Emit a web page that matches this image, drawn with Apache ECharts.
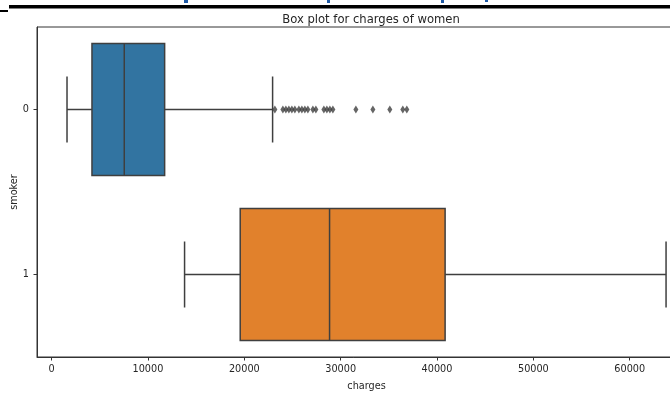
<!DOCTYPE html>
<html>
<head>
<meta charset="utf-8">
<script src="https://cdn.jsdelivr.net/npm/echarts@6/dist/echarts.min.js"></script>
<style>
html,body{margin:0;padding:0;background:#fff;}
#chart{width:670px;height:398px;}
</style>
</head>
<body>
<div id="chart"></div>
<script>
// ---- data ----
const categories = ['0', '1'];
// [min whisker, Q1, median, Q3, max whisker]
const stats0 = [1600, 4190, 7541, 11732, 22936];
const stats1 = [13800, 19575, 28848, 40840, 63770];
const outliers0 = [23174, 24004, 24315, 24627, 24938, 25249, 25664, 25975, 26286, 26598,
                   27116, 27427, 28257, 28568, 28880, 29191, 31577, 33340, 35104, 36452, 36867];
const xTicks = [0, 10000, 20000, 30000, 40000, 50000, 60000];
const boxColors = ['#3274A1', '#E1812C'];
const lineColor = '#3f3f3f';

const boxData = [[0].concat(stats0), [1].concat(stats1)];
const outlierData = outliers0.map(v => [v, 0]);

const chart = echarts.init(document.getElementById('chart'), null, {renderer: 'canvas'});
const font = 'DejaVu Sans';

const option = {
  animation: false,
  backgroundColor: '#fff',
  title: {
    text: 'Box plot for charges of women',
    left: 366, top: 9, textAlign: 'center',
    textStyle: {fontFamily: font, fontSize: 11.6, fontWeight: 'normal', color: '#262626'}
  },
  grid: {
    left: 37, top: 27, width: 659, height: 330,
    containLabel: false, outerBoundsMode: 'none',
    show: true, borderColor: '#333', borderWidth: 1, backgroundColor: 'transparent'
  },
  xAxis: {
    type: 'value', min: -1515, max: 66878,
    name: 'charges', nameLocation: 'middle', nameGap: 24, nameMoveOverlap: false,
    nameTextStyle: {fontFamily: font, fontSize: 9.7, color: '#262626'},
    splitLine: {show: false},
    axisLine: {show: true, onZero: false, lineStyle: {color: '#333', width: 1}},
    axisTick: {show: true, length: 3.5, customValues: xTicks, lineStyle: {color: '#333'}},
    axisLabel: {customValues: xTicks, fontFamily: font, fontSize: 9.7, color: '#262626', margin: 7,
                formatter: v => String(v)}
  },
  yAxis: {
    type: 'category', data: categories, inverse: true,
    name: 'smoker', nameLocation: 'middle', nameGap: 18, nameMoveOverlap: false,
    nameTextStyle: {fontFamily: font, fontSize: 9.7, color: '#262626'},
    axisLine: {show: true, onZero: false, lineStyle: {color: '#333', width: 1}},
    axisTick: {show: true, alignWithLabel: true, length: 3.5, lineStyle: {color: '#333'}},
    axisLabel: {fontFamily: font, fontSize: 9.7, color: '#262626', margin: 8},
    splitLine: {show: false}
  },
  series: [
    {
      type: 'custom',
      data: boxData,
      encode: {x: [1, 2, 3, 4, 5], y: 0},
      renderItem: function (params, api) {
        const cat = api.value(0);
        const pLo = api.coord([api.value(1), cat]);
        const pQ1 = api.coord([api.value(2), cat]);
        const pMed = api.coord([api.value(3), cat]);
        const pQ3 = api.coord([api.value(4), cat]);
        const pHi = api.coord([api.value(5), cat]);
        const band = api.size([0, 1])[1];
        const bh = band * 0.8;
        const ch = bh / 2;
        const y = pMed[1];
        const ls = {stroke: lineColor, lineWidth: 1.5};
        return {
          type: 'group',
          children: [
            {type: 'line', shape: {x1: pLo[0], y1: y, x2: pQ1[0], y2: y}, style: ls},
            {type: 'line', shape: {x1: pQ3[0], y1: y, x2: pHi[0], y2: y}, style: ls},
            {type: 'line', shape: {x1: pLo[0], y1: y - ch / 2, x2: pLo[0], y2: y + ch / 2}, style: ls},
            {type: 'line', shape: {x1: pHi[0], y1: y - ch / 2, x2: pHi[0], y2: y + ch / 2}, style: ls},
            {type: 'rect', shape: {x: pQ1[0], y: y - bh / 2, width: pQ3[0] - pQ1[0], height: bh},
             style: {fill: boxColors[cat], stroke: lineColor, lineWidth: 1.5}},
            {type: 'line', shape: {x1: pMed[0], y1: y - bh / 2, x2: pMed[0], y2: y + bh / 2}, style: ls}
          ]
        };
      },
      z: 2
    },
    {
      type: 'scatter',
      data: outlierData,
      symbol: 'diamond',
      symbolSize: [5, 8],
      itemStyle: {color: lineColor},
      z: 3
    }
  ],
  graphic: [
    {type: 'rect', shape: {x: 9, y: 5, width: 661, height: 3.5}, style: {fill: '#000'}},
    {type: 'rect', shape: {x: 0, y: 10, width: 8, height: 2}, style: {fill: '#000'}},
    {type: 'rect', shape: {x: 184, y: 0, width: 4, height: 3}, style: {fill: '#1f5aa6'}},
    {type: 'rect', shape: {x: 327, y: 0, width: 3, height: 3}, style: {fill: '#1f5aa6'}},
    {type: 'rect', shape: {x: 441, y: 0, width: 3, height: 3}, style: {fill: '#1f5aa6'}},
    {type: 'rect', shape: {x: 485, y: 0, width: 3, height: 2}, style: {fill: '#1f5aa6'}}
  ]
};
chart.setOption(option);
</script>
</body>
</html>
